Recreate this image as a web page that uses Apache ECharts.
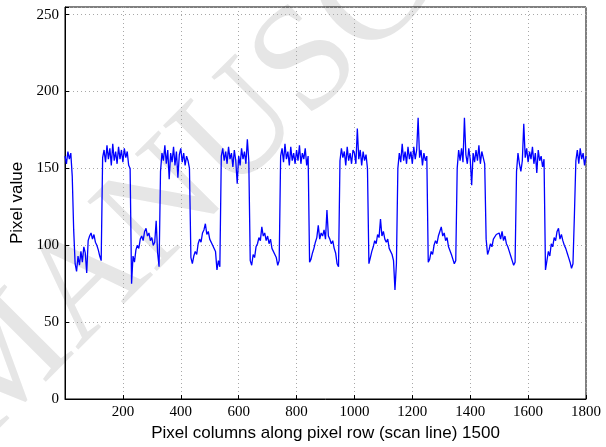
<!DOCTYPE html>
<html>
<head>
<meta charset="utf-8">
<script src="https://cdn.jsdelivr.net/npm/echarts@6/dist/echarts.min.js"></script>
<style>
  html, body { margin: 0; padding: 0; background: #fff; }
  #chart { width: 606px; height: 447px; }
</style>
</head>
<body>
<div id="chart"></div>
<script>
// scan line 1500, one value every 5 pixel columns
const columnStep = 5;
const cols0000 = [158, 153, 161, 156, 160, 145, 110, 88, 83, 93, 87, 96, 89, 99, 95, 82, 103, 106, 108, 104,
  107, 102, 100, 97, 93, 90, 157, 162, 154, 165, 156, 163, 152, 166, 155, 161, 153, 164, 156, 162];
const cols0200 = [154, 163, 157, 161, 152, 150, 75, 93, 89, 97, 100, 98, 104, 106, 103, 109, 111, 106, 108, 103,
  105, 100, 102, 116, 95, 86, 148, 160, 155, 165, 153, 162, 143, 160, 154, 164, 152, 161, 144, 159];
const cols0400 = [163, 154, 160, 152, 158, 155, 150, 92, 88, 93, 96, 94, 101, 104, 102, 108, 110, 114, 107, 109,
  104, 105, 100, 101, 96, 84, 90, 86, 158, 163, 155, 161, 153, 164, 156, 160, 151, 162, 155, 140];
const cols0600 = [158, 152, 163, 156, 161, 153, 169, 155, 90, 87, 94, 92, 99, 101, 105, 103, 112, 106, 108, 103,
  106, 101, 104, 98, 99, 94, 92, 87, 90, 158, 163, 154, 166, 156, 161, 152, 164, 155, 160, 153];
const cols0800 = [162, 155, 165, 153, 160, 156, 163, 152, 158, 89, 91, 95, 98, 102, 105, 113, 104, 108, 106, 110,
  104, 123, 106, 104, 101, 103, 98, 95, 88, 86, 155, 163, 157, 161, 152, 164, 155, 160, 153, 162];
const cols1000 = [160, 153, 176, 156, 162, 152, 161, 155, 159, 150, 88, 92, 96, 99, 103, 101, 107, 105, 117, 106,
  109, 104, 102, 104, 98, 99, 94, 90, 71, 88, 150, 160, 154, 166, 155, 161, 153, 164, 156, 161];
const cols1200 = [153, 164, 156, 162, 183, 157, 162, 152, 160, 155, 158, 89, 91, 96, 94, 100, 103, 101, 106, 109,
  112, 106, 108, 103, 105, 99, 98, 94, 91, 88, 90, 150, 162, 155, 163, 154, 183, 159, 153, 163];
const cols1400 = [156, 139, 160, 154, 162, 155, 165, 153, 161, 157, 153, 104, 94, 97, 101, 99, 104, 103, 107, 106,
  108, 104, 109, 103, 106, 101, 99, 96, 93, 90, 87, 89, 148, 160, 153, 148, 155, 179, 157, 163];
const cols1600 = [154, 161, 156, 164, 153, 160, 147, 162, 155, 158, 151, 156, 84, 90, 96, 93, 101, 99, 105, 103,
  109, 111, 104, 107, 103, 100, 98, 95, 92, 89, 85, 88, 120, 155, 162, 153, 163, 156, 160, 152];
const cols1800 = [158];

const xTicks = [0, 200, 400, 600, 800, 1000, 1200, 1400, 1600, 1800];
const yTicks = [0, 50, 100, 150, 200, 250];

const pixelValues = [].concat(cols0000, cols0200, cols0400, cols0600, cols0800,
  cols1000, cols1200, cols1400, cols1600, cols1800);
const scanData = pixelValues.map((v, i) => [i * columnStep, v]);

const tickFont = { fontFamily: 'Liberation Serif', fontSize: 15, color: '#000' };
const nameFont = { fontFamily: 'Liberation Sans', fontSize: 17, color: '#000' };
const gridDots = { show: true, lineStyle: { color: '#a8a8a8', width: 1, type: [1, 3] } };

const chart = echarts.init(document.getElementById('chart'));
chart.setOption({
  animation: false,
  backgroundColor: '#fff',
  grid: { left: 65, right: 20, top: 7, bottom: 48, show: true, borderColor: '#000', borderWidth: 1 },
  graphic: [{
    // "accepted manuscript" stamp behind the plot
    type: 'text',
    x: 8,
    y: 470,
    rotation: Math.PI / 4,
    silent: true,
    z: -10,
    style: {
      text: 'MANUSCRIPT',
      font: '150px "Liberation Serif"',
      fill: '#e6e6e6',
      textAlign: 'left',
      textVerticalAlign: 'bottom'
    }
  }],
  xAxis: {
    type: 'value',
    min: xTicks[0],
    max: xTicks[xTicks.length - 1],
    interval: 200,
    name: 'Pixel columns along pixel row (scan line) 1500',
    nameLocation: 'middle',
    nameGap: 23,
    nameTextStyle: nameFont,
    axisLine: { lineStyle: { color: '#000', width: 1 } },
    axisTick: { inside: true, length: 4, lineStyle: { color: '#000' } },
    axisLabel: Object.assign({ margin: 6, formatter: v => (v > 0 && xTicks.includes(v) ? String(v) : '') }, tickFont),
    splitLine: gridDots
  },
  yAxis: {
    type: 'value',
    min: 0,
    max: 255,
    interval: 50,
    name: 'Pixel value',
    nameLocation: 'middle',
    nameGap: 35,
    nameTextStyle: nameFont,
    axisLine: { show: true, lineStyle: { color: '#000', width: 1 } },
    axisTick: { show: true, inside: true, length: 4, lineStyle: { color: '#000' } },
    axisLabel: Object.assign({ margin: 6, formatter: v => (yTicks.includes(v) ? String(v) : '') }, tickFont),
    splitLine: gridDots
  },
  series: [{
    type: 'line',
    data: scanData,
    showSymbol: false,
    clip: true,
    lineStyle: { color: '#0000ff', width: 1.3 },
    z: 3
  }]
});
</script>
</body>
</html>
